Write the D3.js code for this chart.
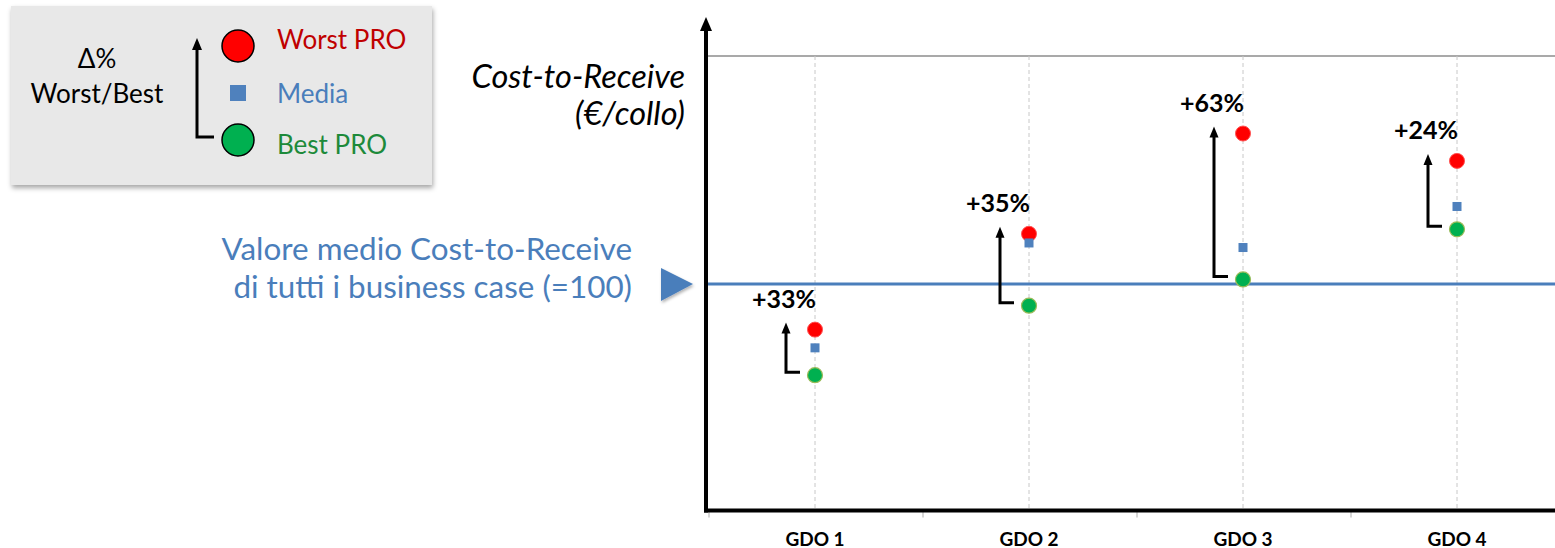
<!DOCTYPE html>
<html>
<head>
<meta charset="utf-8">
<script src="https://cdn.jsdelivr.net/npm/d3@7"></script>
<style>
  html, body { margin: 0; padding: 0; background: #ffffff; }
  svg { display: block; font-family: Lato, "Open Sans", sans-serif; }
</style>
</head>
<body>
<svg id="chart" width="1555" height="548"></svg>
<script>
// Cost-to-Receive per retailer (index, average of all business cases = 100)
const categories = ["GDO 1", "GDO 2", "GDO 3", "GDO 4"];
const worstPro   = [80, 122, 166, 154];
const media      = [72, 118, 116, 134];
const bestPro    = [60, 90.5, 102, 124];
const benchmark  = 100;
const yMax       = 200;

const legendLabels = ["Worst PRO", "Media", "Best PRO"];
const axisTitle    = ["Cost-to-Receive", "(€/collo)"];
const benchTitle   = ["Valore medio Cost-to-Receive", "di tutti i business case (=100)"];
const deltaTitle   = ["Δ%", "Worst/Best"];

const COL = {
  red: "#ff0000", redText: "#c00000",
  blue: "#4f81bd", blueText: "#4a7ebb",
  green: "#00b050", greenText: "#1d8a3a",
  grid: "#c8c8c8", top: "#8c8c8c"
};

const svg = d3.select("#chart");
const defs = svg.append("defs");

const shadow = defs.append("filter").attr("id", "shadow")
  .attr("x", "-10%").attr("y", "-10%").attr("width", "130%").attr("height", "140%");
shadow.append("feDropShadow").attr("dx", 1).attr("dy", 3)
  .attr("stdDeviation", 2.5).attr("flood-color", "#000").attr("flood-opacity", 0.35);

const triShadow = defs.append("filter").attr("id", "triShadow")
  .attr("x", "-30%").attr("y", "-30%").attr("width", "160%").attr("height", "160%");
triShadow.append("feDropShadow").attr("dx", 1).attr("dy", 2)
  .attr("stdDeviation", 1.5).attr("flood-color", "#000").attr("flood-opacity", 0.3);

// Scales
const x = d3.scaleBand().domain(categories).range([708, 1564]).paddingInner(0).paddingOuter(0);
const y = d3.scaleLinear().domain([0, yMax]).range([512, 56]);
const cx = d => x(d) + x.bandwidth() / 2;
const rightEdge = 1555;
const x0 = 706;
const axisY = 510.5;

// Arrow drawing helper: elbow shaft with a filled head at the top
function arrowUp(g, xv, yTop, yBottom, xEnd, w, headW, headH) {
  g.append("path")
    .attr("d", `M${xEnd},${yBottom} H${xv} V${yTop + headH - 1}`)
    .attr("fill", "none").attr("stroke", "#000").attr("stroke-width", w)
    .attr("stroke-linejoin", "miter");
  g.append("path")
    .attr("d", `M${xv},${yTop} L${xv - headW / 2},${yTop + headH} L${xv + headW / 2},${yTop + headH} Z`)
    .attr("fill", "#000");
}

// ---- Legend box ----
const lg = svg.append("g");
lg.append("rect").attr("x", 11).attr("y", 6).attr("width", 421).attr("height", 179)
  .attr("fill", "#e8e8e8").attr("filter", "url(#shadow)");
lg.selectAll("text.delta").data(deltaTitle).join("text")
  .attr("class", "delta")
  .attr("x", 97).attr("y", (d, i) => 68 + i * 35)
  .attr("text-anchor", "middle").attr("font-size", 26).attr("fill", "#000")
  .text(d => d);
arrowUp(lg, 197, 38, 137, 214, 3, 10, 12);
lg.append("circle").attr("cx", 238).attr("cy", 46).attr("r", 16)
  .attr("fill", COL.red).attr("stroke", "#000").attr("stroke-width", 1.5);
lg.append("rect").attr("x", 230).attr("y", 85).attr("width", 16).attr("height", 16)
  .attr("fill", COL.blue);
lg.append("circle").attr("cx", 238).attr("cy", 140).attr("r", 16)
  .attr("fill", COL.green).attr("stroke", "#000").attr("stroke-width", 1.5);
const legendColors = [COL.redText, COL.blueText, COL.greenText];
lg.selectAll("text.item").data(legendLabels).join("text")
  .attr("class", "item")
  .attr("x", 277).attr("y", (d, i) => [49, 103, 154][i])
  .attr("font-size", 26).attr("fill", (d, i) => legendColors[i])
  .text(d => d);

// ---- Axis title ----
svg.selectAll("text.ytitle").data(axisTitle).join("text")
  .attr("class", "ytitle")
  .attr("x", 685).attr("y", (d, i) => 88 + i * 37)
  .attr("text-anchor", "end").attr("font-size", 32.5).attr("font-style", "italic")
  .attr("fill", "#000").text(d => d);

// ---- Benchmark caption and pointer ----
svg.selectAll("text.bench").data(benchTitle).join("text")
  .attr("class", "bench")
  .attr("x", 632).attr("y", (d, i) => 260 + i * 38)
  .attr("text-anchor", "end").attr("font-size", 31.4).attr("fill", COL.blueText)
  .text(d => d);
svg.append("path")
  .attr("d", `M661,${y(benchmark) - 16} L693,${y(benchmark)} L661,${y(benchmark) + 17} Z`)
  .attr("fill", COL.blueText).attr("filter", "url(#triShadow)");

// ---- Grid ----
svg.append("line").attr("x1", x0).attr("x2", rightEdge)
  .attr("y1", y(yMax)).attr("y2", y(yMax))
  .attr("stroke", COL.top).attr("stroke-width", 1.5);
svg.selectAll("line.vgrid").data(categories).join("line")
  .attr("class", "vgrid")
  .attr("x1", cx).attr("x2", cx).attr("y1", y(yMax)).attr("y2", axisY)
  .attr("stroke", COL.grid).attr("stroke-width", 1).attr("stroke-dasharray", "4,3");

// ---- X axis: labels centred, ticks at band boundaries ----
const xAxis = d3.axisBottom(x).tickSize(0).tickPadding(0);
const gx = svg.append("g").attr("transform", `translate(0,${y(0)})`).call(xAxis);
gx.select(".domain").remove();
gx.selectAll("text")
  .attr("dy", 0).attr("y", 33.5)
  .attr("font-family", "Lato, sans-serif").attr("font-size", 19)
  .attr("font-weight", "bold").attr("fill", "#000");
svg.selectAll("line.xtick").data(categories).join("line")
  .attr("class", "xtick")
  .attr("x1", d => x(d) + 1).attr("x2", d => x(d) + 1)
  .attr("y1", axisY).attr("y2", axisY + 7)
  .attr("stroke", "#c8c8c8").attr("stroke-width", 1.5);

// Benchmark line
svg.append("line").attr("x1", x0).attr("x2", rightEdge)
  .attr("y1", y(benchmark)).attr("y2", y(benchmark))
  .attr("stroke", COL.blueText).attr("stroke-width", 3);

// Axis lines
svg.append("line").attr("x1", x0 - 2).attr("x2", rightEdge)
  .attr("y1", axisY).attr("y2", axisY)
  .attr("stroke", "#000").attr("stroke-width", 4);
arrowUp(svg.append("g"), x0, 17, axisY + 2, x0, 4, 12, 14);

// ---- Worst/Best spread arrows and labels ----
const rows = categories.map((c, i) => ({ c, w: worstPro[i], m: media[i], b: bestPro[i] }));
const ag = svg.append("g");
rows.forEach(r => {
  const c = cx(r.c);
  arrowUp(ag, c - 29, y(r.w) - 7, y(r.b) - 3, c - 15, 3, 9, 11);
});
svg.selectAll("text.delta-lbl").data(rows).join("text")
  .attr("class", "delta-lbl")
  .attr("x", d => cx(d.c) - 31).attr("y", d => y(d.w) - 22)
  .attr("text-anchor", "middle").attr("font-size", 25).attr("font-weight", "bold")
  .attr("fill", "#000")
  .text(d => "+" + Math.round((d.w / d.b - 1) * 100) + "%");

// ---- Points ----
svg.selectAll("circle.worst").data(rows).join("circle")
  .attr("class", "worst")
  .attr("cx", d => cx(d.c)).attr("cy", d => y(d.w)).attr("r", 7.5)
  .attr("fill", COL.red).attr("stroke", "#ff5050").attr("stroke-width", 1);
svg.selectAll("rect.media").data(rows).join("rect")
  .attr("class", "media")
  .attr("x", d => cx(d.c) - 4.5).attr("y", d => y(d.m) - 4.5)
  .attr("width", 9).attr("height", 9).attr("fill", COL.blue);
svg.selectAll("circle.best").data(rows).join("circle")
  .attr("class", "best")
  .attr("cx", d => cx(d.c)).attr("cy", d => y(d.b)).attr("r", 7.5)
  .attr("fill", COL.green).attr("stroke", "#9bbb59").attr("stroke-width", 1.2);
</script>
</body>
</html>
